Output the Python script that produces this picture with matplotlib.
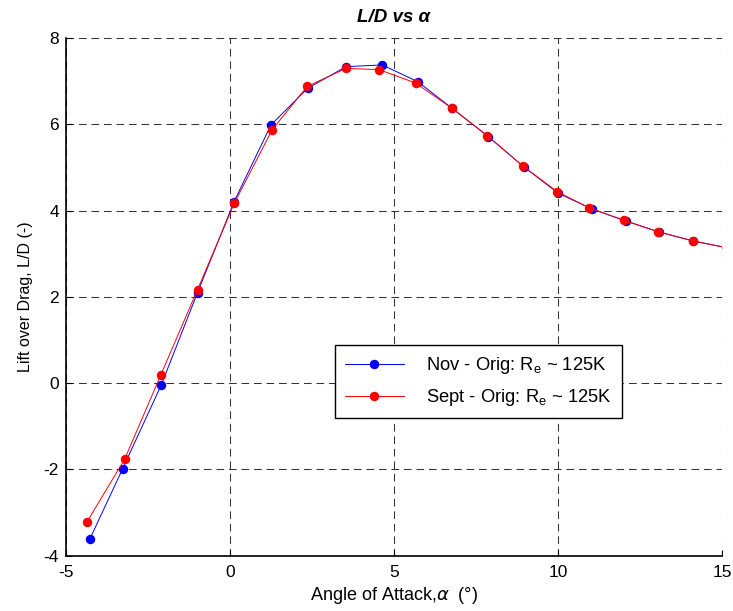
import numpy as np
import matplotlib
matplotlib.use("Agg")
import matplotlib.pyplot as plt

plt.rcParams['font.family'] = ['Liberation Sans', 'DejaVu Sans']
plt.rcParams['mathtext.fontset'] = 'custom'
plt.rcParams['mathtext.rm'] = 'Liberation Sans'
plt.rcParams['lines.scale_dashes'] = False
plt.rcParams['axes.unicode_minus'] = False

# data (last point sits just past the x limit)
nov_alpha = [-4.27, -3.27, -2.10, -0.99, 0.12, 1.25, 2.37, 3.54, 4.64, 5.73,
             6.76, 7.87, 8.95, 10.00, 11.03, 12.07, 13.07, 14.11, 15.15]
nov_ld = [-3.61, -1.98, -0.05, 2.10, 4.20, 5.99, 6.84, 7.34, 7.38, 6.99,
          6.38, 5.72, 5.02, 4.41, 4.04, 3.76, 3.51, 3.30, 3.14]

sept_alpha = [-4.37, -3.21, -2.11, -0.99, 0.13, 1.28, 2.35, 3.54, 4.55, 5.66,
              6.76, 7.85, 8.92, 9.98, 10.94, 12.00, 13.05, 14.11, 15.15]
sept_ld = [-3.23, -1.76, 0.19, 2.17, 4.17, 5.87, 6.88, 7.30, 7.27, 6.96,
           6.38, 5.74, 5.04, 4.44, 4.07, 3.78, 3.51, 3.30, 3.14]

xticks = [-5, 0, 5, 10, 15]
yticks = [-4, -2, 0, 2, 4, 6, 8]

fig = plt.figure(figsize=(7.33, 6.11), dpi=100)
ax = fig.add_axes([0.090, 0.0905, 0.895, 0.847])

ax.plot(nov_alpha, nov_ld, '-o', color=(0, 0, 1), lw=0.7, ms=5.8,
        label=r'Nov - Orig: R$_{\mathrm{e}}$ ~ 125K')
ax.plot(sept_alpha, sept_ld, '-o', color=(1, 0, 0), lw=0.7, ms=5.8,
        label=r'Sept - Orig: R$_{\mathrm{e}}$ ~ 125K')

ax.set_xlim(-5, 15)
ax.set_ylim(-4, 8)
ax.set_xticks(xticks)
ax.set_yticks(yticks)
ax.grid(True, color='0.2', lw=0.75, linestyle=(0, (5.5, 3.5)))
ax.set_axisbelow(True)

for s in ['top', 'right']:
    ax.spines[s].set_visible(False)
for s in ['left', 'bottom']:
    ax.spines[s].set_linewidth(1.2)
ax.tick_params(direction='in', length=4, labelsize=12.5)
ax.tick_params(axis='x', pad=7)
ax.tick_params(axis='y', pad=5)

ax.set_xlabel(r'Angle of Attack,$\alpha$  (°)', fontsize=13, labelpad=3)
ax.set_ylabel('Lift over Drag, L/D (-)', fontsize=11.5, labelpad=8)
ax.set_title('L/D vs α', fontsize=13.5, fontweight='bold', fontstyle='italic', pad=12)

leg = ax.legend(loc='upper left', bbox_to_anchor=(0.41, 0.407), fontsize=13.2,
                fancybox=False, framealpha=1, edgecolor='k', borderpad=0.55,
                handlelength=3.2, handletextpad=1.2, labelspacing=0.6,
                borderaxespad=0)
leg.get_frame().set_linewidth(1.0)

fig.savefig('out.png', dpi=100)
